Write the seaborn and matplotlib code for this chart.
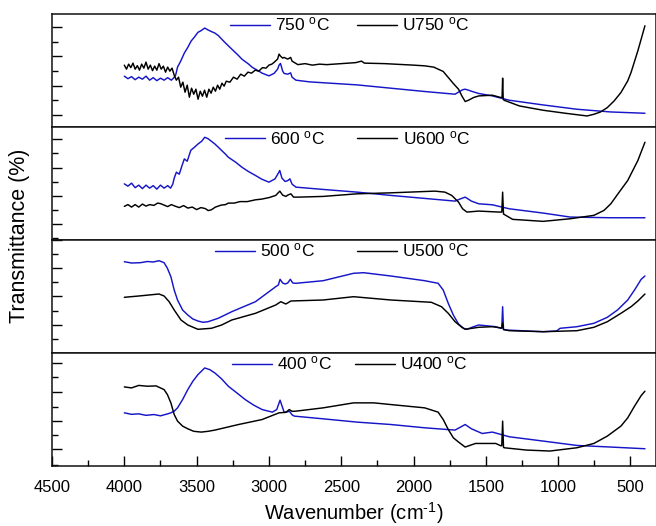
import matplotlib
matplotlib.use("Agg")
import matplotlib.pyplot as plt
from matplotlib.ticker import MultipleLocator, NullFormatter
from matplotlib.lines import Line2D
import seaborn as sns
import pandas as pd

# ---------------- FTIR spectra (wavenumber in cm^-1, transmittance in a.u.) ----------------
wn_750 = [4000, 3975, 3950, 3925, 3900, 3875, 3850, 3825, 3800, 3775, 3750, 3725, 3700, 3675,
          3660, 3645, 3632, 3610, 3585, 3560, 3538, 3515, 3491, 3468, 3444, 3420, 3398, 3374,
          3350, 3327, 3300, 3257, 3210, 3187, 3140, 3117, 3070, 3047, 3000, 2965, 2940, 2930,
          2920, 2905, 2895, 2870, 2850, 2840, 2813, 2719, 2391, 1923, 1713, 1690, 1660, 1643,
          1620, 1600, 1549, 1455, 1338, 1104, 870, 636, 400]
t_750 = [51, 48.5, 50.5, 47.5, 50, 48, 51, 47, 49.5, 46.5, 49, 47, 49.5, 47,
         49, 52, 60, 66, 74, 80, 86, 90, 94.7, 96.5, 99, 97, 95.5, 94,
         91.5, 88, 84, 78, 71.5, 68, 63, 60, 56, 54, 51.3, 53.7, 58, 62,
         63.7, 56, 53.7, 53, 54.3, 50, 47, 45.3, 42.3, 35.7, 33, 35, 37.5, 38,
         37, 36, 33.7, 31.3, 27, 22.3, 18, 15.3, 14]

wn_u750 = [4000, 3985, 3970, 3955, 3940, 3925, 3910, 3895, 3880, 3865, 3850, 3835, 3820, 3805,
           3790, 3775, 3760, 3745, 3730, 3715, 3700, 3685, 3670, 3655, 3640, 3625, 3610, 3595,
           3580, 3565, 3550, 3535, 3520, 3505, 3490, 3475, 3460, 3445, 3430, 3415, 3400, 3385,
           3370, 3355, 3340, 3325, 3310, 3295, 3270, 3245, 3220, 3195, 3170, 3145, 3120, 3095,
           3070, 3045, 3020, 3000, 2980, 2965, 2940, 2930, 2920, 2905, 2895, 2870, 2850, 2840,
           2800, 2750, 2700, 2650, 2600, 2500, 2400, 2360, 2340, 2200, 2000, 1923, 1860, 1830,
           1795, 1760, 1725, 1689, 1666, 1643, 1620, 1585, 1549, 1455, 1397, 1388, 1384, 1380,
           1374, 1268, 1104, 950, 800, 753, 707, 660, 613, 566, 519, 496, 449, 426, 400]
t_u750 = [62, 58, 63, 59.5, 64, 58, 61.5, 57, 63, 59, 65, 58, 62, 56.5,
          61, 57, 63.5, 58, 61, 55, 60, 56, 59, 52, 47, 50, 40, 45,
          35, 42, 30, 39, 33, 38, 28, 36, 31, 37, 30, 38, 34, 40,
          36, 42, 38, 44, 41, 46, 45, 50, 48, 53, 51, 55, 54, 57,
          56, 59.5, 59, 62, 63, 64.7, 68, 73, 71, 69, 69.7, 68, 69.7, 66,
          62.5, 63.5, 62, 63, 62.5, 63.5, 64.5, 66, 64, 63.5, 62, 61.3, 60, 58,
          55.7, 49.7, 43.7, 38, 31.3, 25.7, 27, 29.7, 31.3, 32, 29.7, 30, 49, 28,
          27, 21.3, 17, 14, 11.3, 13, 15.3, 19.7, 26.3, 34.7, 46.3, 54.7, 76.3, 88, 101.3]

wn_600 = [4000, 3975, 3950, 3925, 3900, 3875, 3850, 3825, 3800, 3775, 3750, 3725, 3700, 3680,
          3665, 3655, 3640, 3620, 3600, 3585, 3565, 3540, 3515, 3490, 3465, 3444, 3420, 3398,
          3374, 3350, 3300, 3281, 3230, 3187, 3140, 3093, 3050, 3000, 2958, 2935, 2925, 2910,
          2888, 2870, 2855, 2840, 2813, 2625, 2391, 2157, 1713, 1680, 1643, 1600, 1549, 1455,
          1338, 1104, 917, 636, 400]
t_600 = [56.3, 54, 57, 52.5, 55, 51.5, 55, 52, 54.5, 51, 55, 52, 54.5, 52,
         56, 62, 68, 66, 75, 81.3, 79, 90, 93, 96.3, 99, 103, 101.5, 99,
         96.3, 93, 86, 83, 78, 73, 68.5, 64.7, 61, 58, 61.3, 67, 69.7, 62,
         58.7, 59.5, 61.3, 56, 53, 50.7, 48, 44.7, 39, 41, 43, 39, 36.3, 35.3,
         31.3, 27, 23, 22.3, 22.3]

wn_u600 = [4000, 3975, 3950, 3925, 3900, 3875, 3850, 3825, 3795, 3770, 3750, 3725, 3700, 3675,
           3650, 3620, 3590, 3561, 3530, 3500, 3470, 3440, 3420, 3398, 3370, 3330, 3300, 3281,
           3240, 3200, 3150, 3093, 3050, 3000, 2953, 2925, 2905, 2883, 2870, 2848, 2830, 2789,
           2625, 2391, 2157, 1853, 1783, 1736, 1689, 1661, 1631, 1549, 1409, 1390, 1384, 1378,
           1374, 1315, 1104, 917, 753, 683, 636, 578, 519, 484, 449, 400]
t_u600 = [33.7, 35.5, 33, 35.5, 33, 36, 34, 35.5, 34.7, 37, 36.5, 35, 33.5, 35.5,
          34, 32.5, 34.5, 32, 33, 30.5, 32.5, 31.5, 29.5, 30.3, 33, 35, 35.5, 37,
          37, 38.5, 38.5, 40.3, 41, 42.5, 44.7, 49, 45, 43.7, 45, 46.3, 43, 43,
          43.7, 46.3, 47.3, 49, 48, 44.7, 38, 31.3, 28, 29, 28, 28, 48, 26,
          25.7, 20.7, 18.7, 21.3, 24.7, 29.7, 36.3, 48, 59.7, 69.7, 79.7, 98]

wn_500 = [4000, 3950, 3889, 3840, 3800, 3760, 3725, 3702, 3678, 3655, 3632, 3597, 3561, 3526,
          3491, 3456, 3421, 3386, 3351, 3257, 3093, 2953, 2935, 2923, 2905, 2888, 2870, 2852,
          2835, 2813, 2625, 2415, 2345, 2157, 1923, 1830, 1795, 1760, 1725, 1689, 1654, 1631,
          1585, 1549, 1432, 1397, 1390, 1384, 1378, 1362, 1104, 1011, 987, 870, 753, 660,
          590, 519, 472, 426, 400]
t_500 = [91.3, 90, 90.3, 91.5, 91, 92.3, 90.3, 84.7, 76.3, 63, 53, 43, 38, 34,
         32, 30.7, 31.3, 33, 34.7, 41.3, 51.3, 66.3, 68, 73.7, 70, 69, 70, 73.7,
         70, 69.7, 72.3, 79.7, 80.3, 77, 72.3, 69.7, 63, 49.7, 38, 29, 24.7, 23.7,
         26.3, 28, 26.3, 24.7, 25, 46.3, 23.5, 23, 21.3, 22, 24.7, 26.3, 29.7, 35.7,
         43, 53, 63, 73.7, 77]

wn_u500 = [4000, 3900, 3760, 3725, 3690, 3655, 3608, 3561, 3491, 3398, 3327, 3257, 3093, 2953,
           2918, 2883, 2848, 2625, 2415, 2157, 1877, 1807, 1760, 1713, 1666, 1643, 1549, 1455,
           1390, 1384, 1378, 1338, 1104, 870, 753, 660, 566, 496, 449, 400]
t_u500 = [55.7, 57, 59, 57, 51.3, 43, 33, 28, 23.7, 24.7, 28, 33, 39.7, 48,
          51.3, 49, 52, 53, 56.3, 53, 50.7, 46.3, 39.7, 31.3, 25.7, 23.7, 25.7, 26.3,
          25, 30, 23.5, 22.3, 21.3, 22.3, 25.7, 31.3, 39.7, 46.3, 52, 59]

wn_400 = [4000, 3950, 3900, 3850, 3795, 3750, 3700, 3678, 3655, 3632, 3597, 3561, 3526, 3491,
          3444, 3409, 3374, 3327, 3281, 3222, 3164, 3105, 3047, 2976, 2946, 2923, 2905, 2895,
          2870, 2859, 2840, 2824, 2625, 2391, 2157, 1923, 1713, 1643, 1600, 1525, 1455, 1338,
          1104, 870, 636, 400]
t_400 = [53, 51.5, 52, 50.5, 51.3, 50, 52, 53, 54.7, 58, 66.3, 76.3, 84.7, 91.3,
         98, 96.3, 93, 87, 79.7, 73, 66.3, 60.7, 56.3, 53.7, 56.3, 65.7, 58, 53.7,
         54, 54.7, 51, 49.7, 47, 43.7, 41.3, 38, 35.7, 41.3, 37, 32.3, 33.7, 29,
         24.7, 20.3, 18.7, 17]

wn_u400 = [4000, 3950, 3900, 3842, 3780, 3725, 3702, 3678, 3655, 3632, 3597, 3561, 3520, 3468,
           3420, 3374, 3210, 3047, 2930, 2883, 2859, 2840, 2813, 2625, 2415, 2274, 2157, 1923,
           1830, 1795, 1760, 1725, 1689, 1643, 1572, 1432, 1397, 1390, 1384, 1378, 1374, 1221,
           1058, 870, 753, 660, 566, 519, 472, 426, 400]
t_u400 = [79, 78, 80.5, 79.7, 80, 76.3, 71.3, 63, 51.3, 44.7, 39.7, 37, 34.5, 33.7,
          34.5, 35.7, 41.3, 46.3, 53, 53.5, 56.3, 54.5, 54.7, 58, 63, 63, 61.3, 58,
          53.7, 46.3, 36.3, 28, 23.7, 18.7, 22.3, 22.3, 20, 20, 44.7, 18.5, 18, 15.7,
          14.7, 18, 22.3, 29.7, 39.7, 48, 59.7, 70.3, 74.7]

panels = [
    ("750", wn_750, t_750, wn_u750, t_u750),
    ("600", wn_600, t_600, wn_u600, t_u600),
    ("500", wn_500, t_500, wn_u500, t_u500),
    ("400", wn_400, t_400, wn_u400, t_u400),
]

# ---------------- styling ----------------
sns.set_theme(style="ticks")
plt.rcParams["font.family"] = ["Liberation Sans", "DejaVu Sans"]
plt.rcParams["mathtext.fontset"] = "custom"
plt.rcParams["mathtext.rm"] = "Liberation Sans"
plt.rcParams["axes.unicode_minus"] = False
plt.rcParams["axes.linewidth"] = 1.1
plt.rcParams["axes.edgecolor"] = "#111111"
for key in ("text.color", "axes.labelcolor", "xtick.color", "ytick.color"):
    plt.rcParams[key] = "black"

BLUE = "#1616c8"
BLACK = "#000000"
LW = 1.05

fig = plt.figure(figsize=(6.56, 5.26), dpi=100)
W, H = 656.0, 526.0
left_px, right_px = 52.0, 655.5
edges_px = [(14.0, 127.3), (127.3, 240.0), (240.0, 353.0), (353.0, 465.7)]

# tick positions in each panel (major, minor), in data units
yticks = [
    ([12.3, 41.5, 70.7, 99.9], [27.0, 56.2, 85.4]),
    ([16.0, 44.3, 72.6, 100.9], [1.9, 30.2, 58.5, 86.8]),
    ([0.0, 28.3, 56.6, 84.9, 113.0], [14.1, 42.4, 70.7, 99.0]),
    ([16.7, 45.0, 73.7, 102.7], [0.7, 30.7, 58.7, 88.7]),
]
legend_x = [0.295, 0.287, 0.270, 0.2985]
legend_gap = [1.55, 1.85, 2.4, 1.3]

for i, (temp, wb, tb, wk, tk) in enumerate(panels):
    top, bot = edges_px[i]
    ax = fig.add_axes([left_px / W, 1 - bot / H, (right_px - left_px) / W, (bot - top) / H])

    blue = pd.DataFrame({"wavenumber": wb, "T": tb})
    black = pd.DataFrame({"wavenumber": wk, "T": tk})
    sns.lineplot(data=blue, x="wavenumber", y="T", ax=ax, color=BLUE, lw=LW,
                 sort=False, estimator=None)
    sns.lineplot(data=black, x="wavenumber", y="T", ax=ax, color=BLACK, lw=LW,
                 sort=False, estimator=None)

    ax.set_xlim(4500, 327)
    ax.set_ylim(0, 113)
    ax.set_xlabel("")
    ax.set_ylabel("")

    ax.set_yticks(yticks[i][0])
    ax.set_yticks(yticks[i][1], minor=True)
    ax.yaxis.set_major_formatter(NullFormatter())
    ax.tick_params(axis="y", which="major", direction="in", length=7, width=1.0,
                   left=True, right=False)
    ax.tick_params(axis="y", which="minor", direction="in", length=4, width=1.0,
                   left=True, right=False)

    ax.xaxis.set_major_locator(MultipleLocator(500))
    ax.xaxis.set_minor_locator(MultipleLocator(250))
    if i < 3:
        ax.tick_params(axis="x", which="both", bottom=False, top=False, labelbottom=False)
    else:
        ax.tick_params(axis="x", which="major", direction="in", length=7, width=1.0,
                       labelsize=12, pad=10.5, top=False)
        ax.tick_params(axis="x", which="minor", direction="in", length=4, width=1.0,
                       top=False)

    handles = [Line2D([], [], color=BLUE, lw=LW), Line2D([], [], color=BLACK, lw=LW)]
    labels = [f"{temp} $\\mathregular{{^o}}$C", f"U{temp} $\\mathregular{{^o}}$C"]
    ax.legend(handles, labels, ncol=2, frameon=False, fontsize=12.5,
              loc="upper left", bbox_to_anchor=(legend_x[i], 0.985),
              borderpad=0, borderaxespad=0, handlelength=2.3, handletextpad=0.3,
              columnspacing=legend_gap[i])

fig.text(20 / W, 1 - 236 / H, "Transmittance (%)", rotation=90, ha="center", va="center",
         fontsize=15.5)
fig.text((left_px + right_px) / 2 / W, 1 - 520 / H, "Wavenumber (cm$^{\\text{-1}}$)",
         ha="center", va="baseline", fontsize=14.5)

fig.savefig("out.png", dpi=100)
